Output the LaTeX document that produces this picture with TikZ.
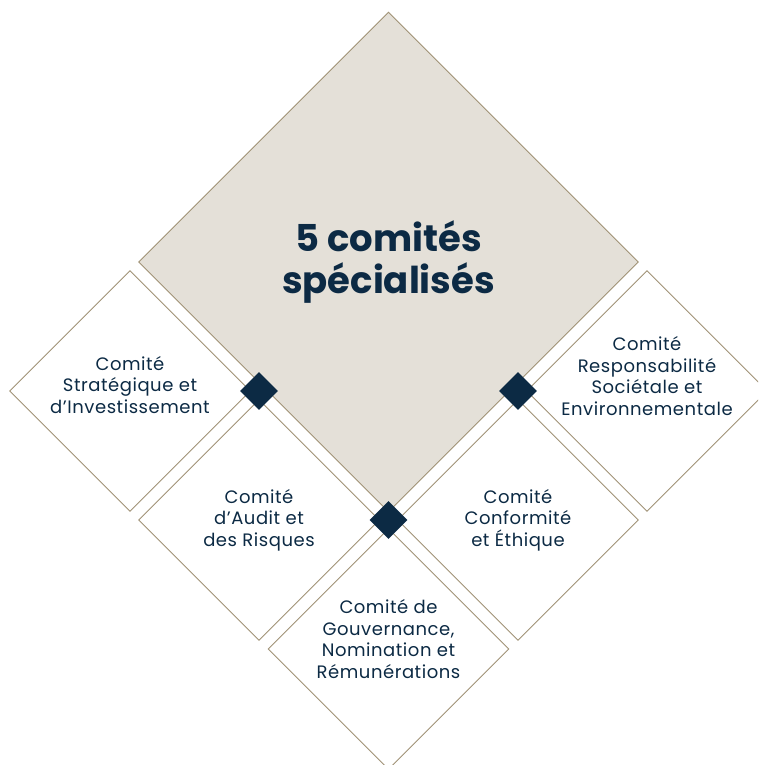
\documentclass[tikz,border=0pt]{standalone}
\usepackage{fontspec}
\setmainfont{Poppins}
\newfontfamily\petite[LetterSpace=3]{Poppins}
\usetikzlibrary{shapes.geometric}
\definecolor{navy}{RGB}{12,42,68}
\definecolor{sand}{RGB}{228,224,216}
\definecolor{taupe}{RGB}{160,146,118}

\begin{document}
\begin{tikzpicture}[x=1pt,y=-1pt,
  losange/.style={diamond,draw=taupe,line width=0.9pt,aspect=1,inner sep=0pt,minimum size=241pt},
  coin/.style={diamond,fill=navy,aspect=1,inner sep=0pt,minimum size=38pt},
  txt/.style={text=navy,align=center,font=\petite\fontsize{18}{21.5}\selectfont},
  titre/.style={text=navy,align=center,font=\fontsize{37}{42}\selectfont\bfseries}]
\useasboundingbox (0,0) rectangle (758,765);
\clip (0,0) rectangle (758,765);
\node[losange,fill=sand,minimum size=500pt] (centre) at (388.5,262) {};
\node[titre] (titre) at (388.5,262) {5 comités\\spécialisés};
\foreach \n/\x/\y in {strat/130/391,audit/259/520,gouv/388.5/649,conf/518/520,rse/647/391}
  {\node[losange] (\n) at (\x,\y) {};}
\node[txt] (t-strat) at (130,385) {Comité\\Stratégique et\\d’Investissement};
\node[txt] (t-audit) at (259,520) {Comité\\d’Audit et\\des Risques};
\node[txt] (t-gouv) at (388.5,639) {Comité de\\Gouvernance,\\Nomination et\\Rémunérations};
\node[txt] (t-conf) at (518,520) {Comité\\Conformité\\et Éthique};
\node[txt] (t-rse) at (647,376) {Comité\\Responsabilité\\Sociétale et\\Environnementale};
\foreach \i/\x/\y in {1/259/391,2/518/391,3/388.5/520}
  {\node[coin] (coin\i) at (\x,\y) {};}
\end{tikzpicture}
\end{document}
